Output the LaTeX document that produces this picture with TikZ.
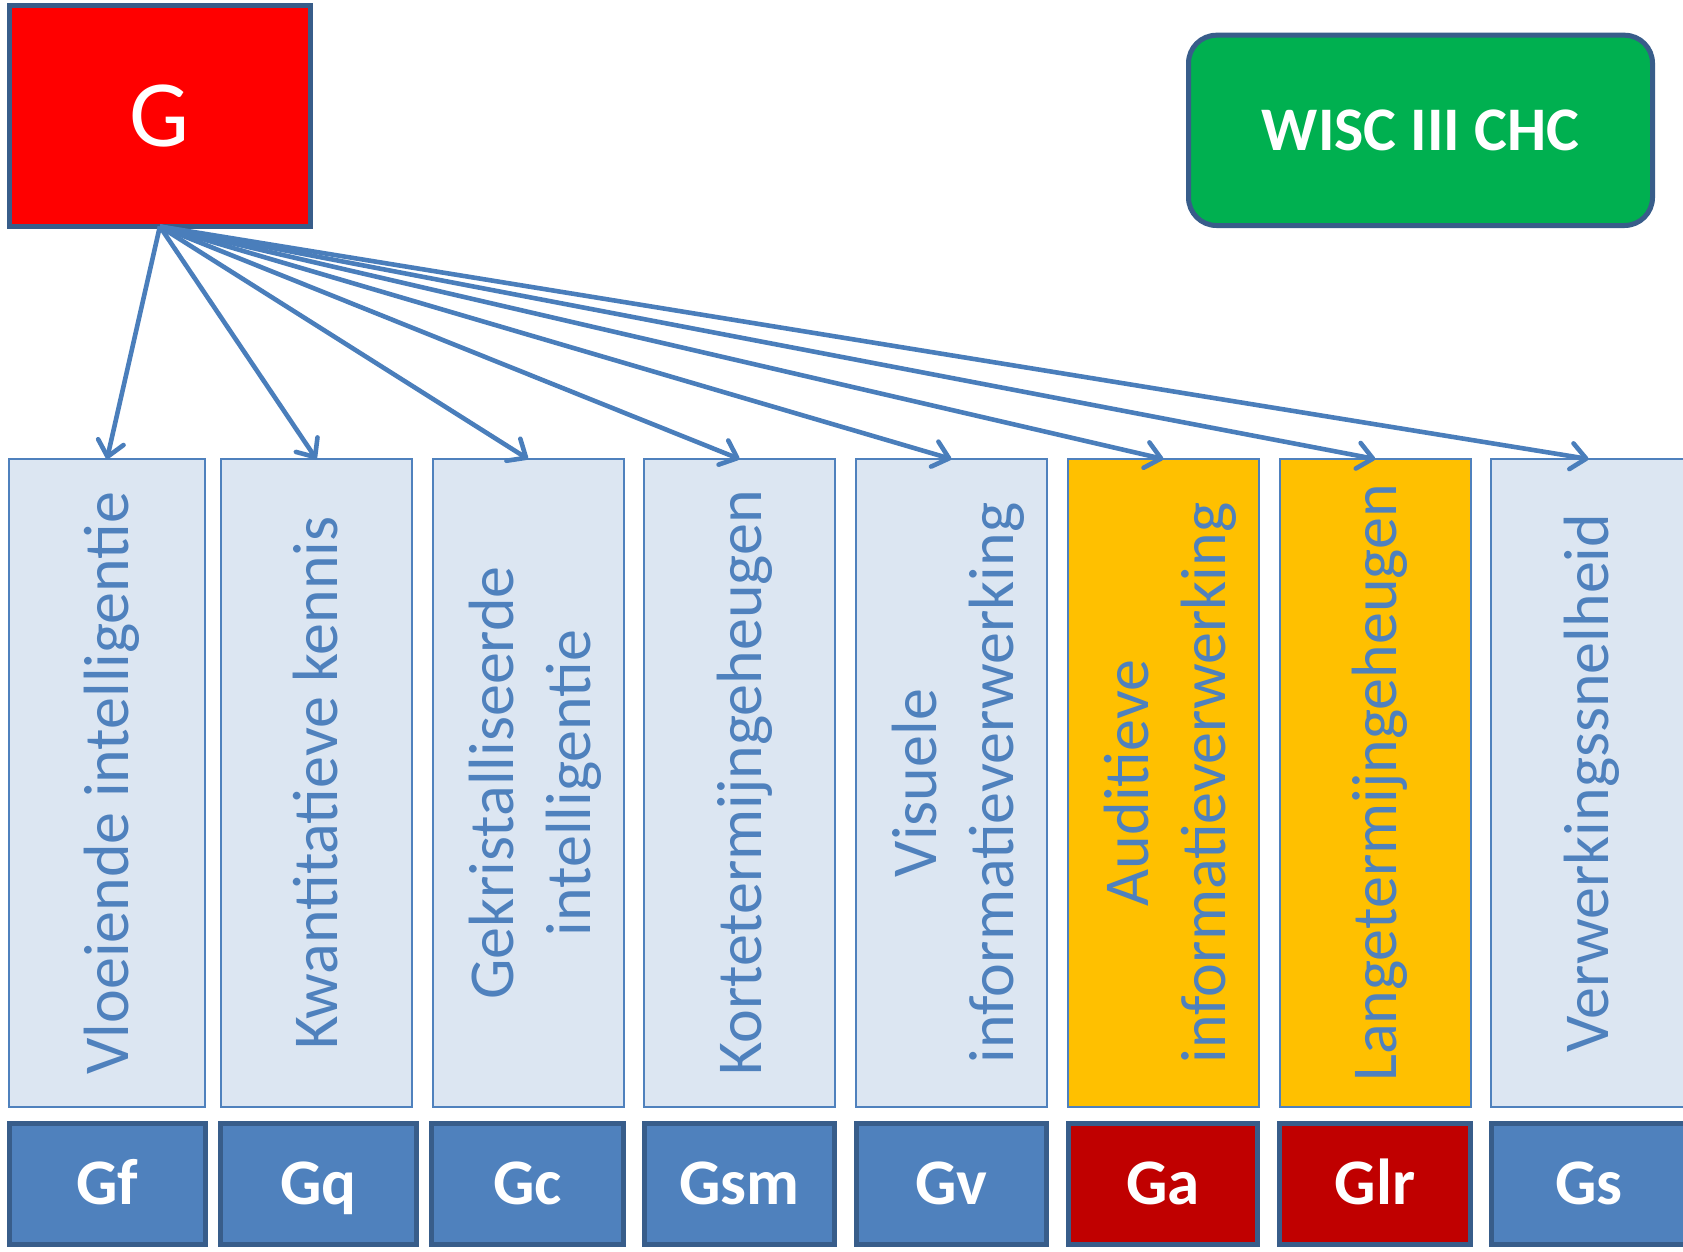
\documentclass[tikz,border=0pt]{standalone}
\usepackage{fontspec}
\setmainfont{Carlito}
\usetikzlibrary{arrows.meta}
\definecolor{acc}{HTML}{4F81BD}
\definecolor{accdark}{HTML}{385D8A}
\definecolor{arrowblue}{HTML}{4A7EBB}
\definecolor{lightcol}{HTML}{DCE6F2}
\definecolor{goldcol}{HTML}{FFC000}
\definecolor{darkred}{HTML}{C00000}
\definecolor{gred}{HTML}{FF0000}
\definecolor{wgreen}{HTML}{00B050}
\begin{document}
\begin{tikzpicture}[x=1pt,y=-1pt,
  colbox/.style={draw=acc, line width=2pt, fill=lightcol, minimum width=191pt, minimum height=648pt, inner sep=0pt, outer sep=0pt},
  goldbox/.style={colbox, fill=goldcol},
  codebox/.style={draw=accdark, line width=5pt, fill=acc, minimum width=192pt, minimum height=120.7pt, inner sep=0pt, outer sep=0pt, text=white, font=\bfseries\fontsize{65}{78}\selectfont, text height=42pt, text depth=0pt},
  redcode/.style={codebox, fill=darkred},
  coltext/.style={text=acc, font=\fontsize{64}{77}\selectfont, rotate=90, align=center, inner sep=0pt},
  gbox/.style={draw=accdark, line width=5pt, fill=gred, minimum width=301.3pt, minimum height=221.3pt, inner sep=0pt, outer sep=0pt, text=white, font=\fontsize{95}{114}\selectfont, text height=61pt, text depth=0pt},
  wiscbox/.style={draw=accdark, line width=5pt, fill=wgreen, rounded corners=28pt, minimum width=464pt, minimum height=190.3pt, inner sep=0pt, outer sep=0pt, text=white, font=\bfseries\fontsize{62}{74}\selectfont, text height=40pt, text depth=0pt},
  link/.style={draw=arrowblue, line width=4.6pt, -{Straight Barb[length=15pt,width=26pt,round]}}
]
\useasboundingbox (0,0) rectangle (1683,1251);
\fill[white] (0,0) rectangle (1683,1251);

\node[gbox] (G) at (159.85,115.85) {G};
\node[wiscbox] (W) at (1420.5,130.35) {WISC III CHC};

\node[colbox, minimum width=195.4pt] (c1) at (107,783) {};
\node[colbox] (c2) at (316.35,783) {};
\node[colbox] (c3) at (528,783) {};
\node[colbox] (c4) at (739.5,783) {};
\node[colbox] (c5) at (951.35,783) {};
\node[goldbox] (c6) at (1163.35,783) {};
\node[goldbox] (c7) at (1375.2,783) {};
\node[colbox, minimum width=195pt] (c8) at (1588.5,783) {};

\node[coltext, anchor=base] (t1) at (128,783) {Vloeiende intelligentie};
\node[coltext, anchor=base] (t2) at (337.8,783) {Kwantitatieve kennis};
\node[coltext] (t3) at (535,783) {Gekristalliseerde\\intelligentie};
\node[coltext, anchor=base] (t4) at (761,783) {Kortetermijngeheugen};
\node[coltext] (t5) at (958.3,783) {Visuele\\informatieverwerking};
\node[coltext] (t6) at (1170.3,783) {Auditieve\\informatieverwerking};
\node[coltext, anchor=base] (t7) at (1396,783) {Langetermijngeheugen};
\node[coltext, anchor=base] (t8) at (1608.5,783) {Verwerkingssnelheid};

\node[codebox, minimum width=196pt] (b1) at (107.2,1183.8) {Gf};
\node[codebox, minimum width=196pt] (b2) at (318.5,1183.8) {Gq};
\node[codebox] (b3) at (527.75,1183.8) {Gc};
\node[codebox, minimum width=190pt] (b4) at (739.5,1183.8) {Gsm};
\node[codebox, minimum width=190pt] (b5) at (951.5,1183.8) {Gv};
\node[redcode, minimum width=189pt] (b6) at (1163,1183.8) {Ga};
\node[redcode, minimum width=191pt] (b7) at (1375,1183.8) {Glr};
\node[codebox, minimum width=196pt] (b8) at (1589,1183.8) {Gs};

\foreach \k in {1,...,8} {
  \draw[link] (G.south) -- (c\k.north);
}
\end{tikzpicture}
\end{document}
